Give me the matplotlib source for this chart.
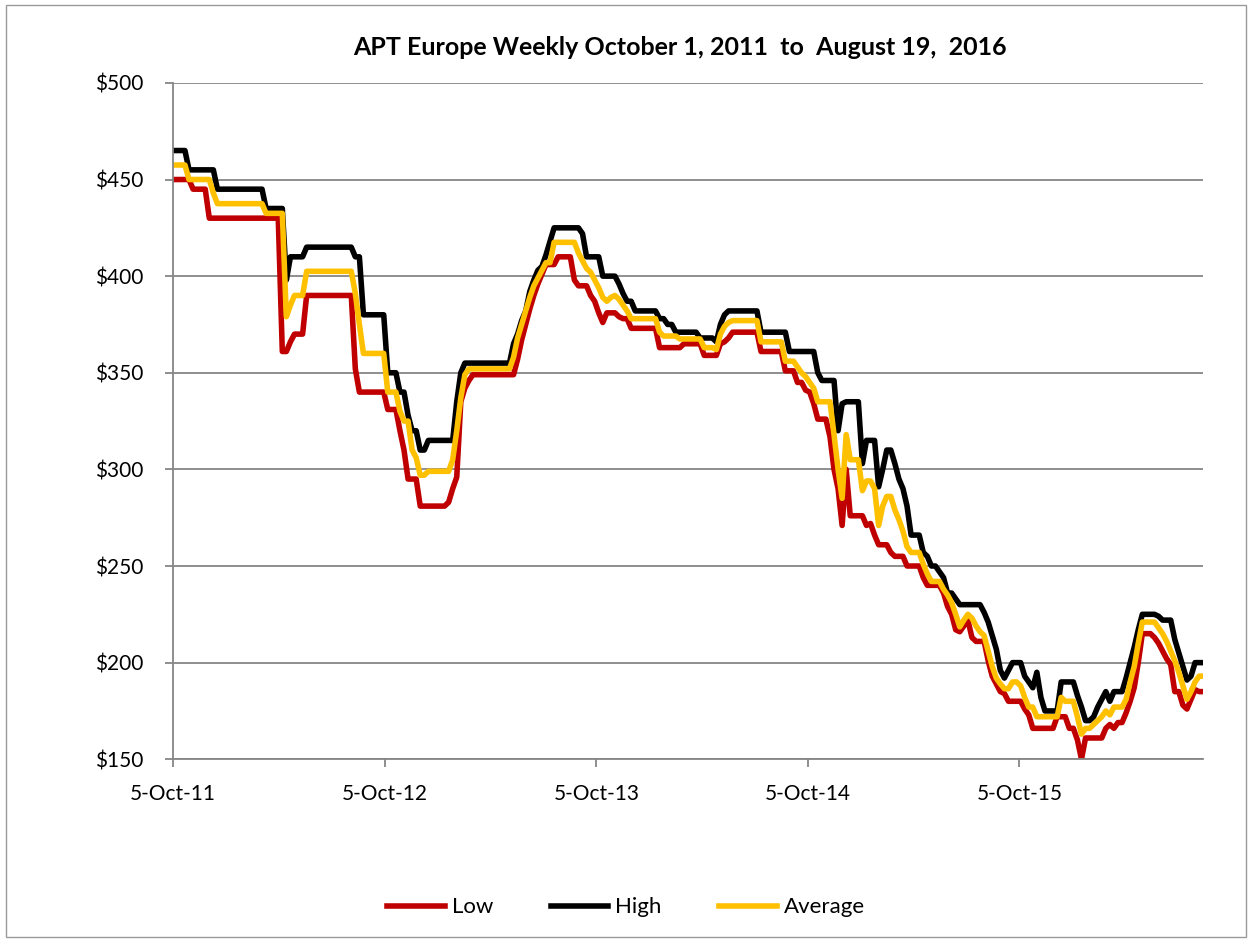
import pandas as pd
import matplotlib
matplotlib.use('Agg')
import matplotlib.pyplot as plt
from matplotlib.patches import Rectangle

plt.rcParams['font.family'] = ['Lato', 'DejaVu Sans']

# weekly prices, first week = 5-Oct-2011
high = [
    465, 465, 465, 465, 455, 455, 455, 455, 455, 455,
    455, 445, 445, 445, 445, 445, 445, 445, 445, 445,
    445, 445, 445, 435, 435, 435, 435, 435, 398, 410,
    410, 410, 410, 415, 415, 415, 415, 415, 415, 415,
    415, 415, 415, 415, 415, 410, 410, 380, 380, 380,
    380, 380, 380, 350, 350, 350, 340, 340, 328, 320,
    320, 310, 310, 315, 315, 315, 315, 315, 315, 315,
    335, 350, 355, 355, 355, 355, 355, 355, 355, 355,
    355, 355, 355, 355, 365, 370, 377, 382, 392, 398,
    403, 405, 411, 418, 425, 425, 425, 425, 425, 425,
    425, 422, 410, 410, 410, 410, 400, 400, 400, 400,
    396, 391, 387, 387, 382, 382, 382, 382, 382, 382,
    378, 378, 375, 375, 371, 371, 371, 371, 371, 371,
    368, 368, 368, 368, 366, 375, 380, 382, 382, 382,
    382, 382, 382, 382, 382, 371, 371, 371, 371, 371,
    371, 371, 361, 361, 361, 361, 361, 361, 361, 350,
    346, 346, 346, 346, 320, 334, 335, 335, 335, 335,
    303, 315, 315, 315, 291, 300, 310, 310, 303, 295,
    290, 281, 266, 266, 266, 257, 255, 250, 250, 247,
    244, 236, 236, 233, 230, 230, 230, 230, 230, 230,
    226, 221, 214, 207, 196, 192, 196, 200, 200, 200,
    193, 190, 187, 195, 182, 175, 175, 175, 175, 190,
    190, 190, 190, 183, 177, 170, 170, 172, 177, 181,
    185, 180, 185, 185, 185, 192, 200, 208, 217, 225,
    225, 225, 225, 224, 222, 222, 222, 212, 205, 198,
    191, 193, 200, 200, 200,
]

low = [
    450, 450, 450, 450, 450, 445, 445, 445, 445, 430,
    430, 430, 430, 430, 430, 430, 430, 430, 430, 430,
    430, 430, 430, 430, 430, 430, 430, 361, 361, 366,
    370, 370, 370, 390, 390, 390, 390, 390, 390, 390,
    390, 390, 390, 390, 390, 352, 340, 340, 340, 340,
    340, 340, 340, 331, 331, 331, 320, 310, 295, 295,
    295, 281, 281, 281, 281, 281, 281, 281, 283, 290,
    296, 335, 342, 346, 349, 349, 349, 349, 349, 349,
    349, 349, 349, 349, 349, 357, 367, 375, 383, 390,
    396, 401, 406, 406, 406, 410, 410, 410, 410, 398,
    395, 395, 395, 390, 387, 381, 376, 381, 381, 381,
    379, 378, 378, 373, 373, 373, 373, 373, 373, 373,
    363, 363, 363, 363, 363, 363, 365, 365, 365, 365,
    365, 359, 359, 359, 359, 365, 366, 368, 371, 371,
    371, 371, 371, 371, 371, 361, 361, 361, 361, 361,
    361, 351, 351, 351, 345, 345, 341, 340, 334, 326,
    326, 326, 317, 300, 290, 271, 300, 276, 276, 276,
    276, 271, 272, 266, 261, 261, 261, 257, 255, 255,
    255, 250, 250, 250, 250, 244, 240, 240, 240, 240,
    236, 229, 225, 217, 216, 219, 222, 213, 211, 211,
    211, 201, 193, 189, 185, 184, 180, 180, 180, 180,
    176, 173, 166, 166, 166, 166, 166, 166, 172, 172,
    172, 166, 166, 160, 150, 161, 161, 161, 161, 161,
    166, 168, 166, 169, 169, 174, 180, 187, 200, 215,
    215, 215, 213, 210, 206, 202, 199, 185, 185, 178,
    176, 181, 186, 185, 185,
]

average = [
    457.5, 457.5, 457.5, 457.5, 450, 450, 450, 450, 450, 450,
    443, 437.5, 437.5, 437.5, 437.5, 437.5, 437.5, 437.5, 437.5, 437.5,
    437.5, 437.5, 437.5, 432.5, 432.5, 432.5, 432.5, 432.5, 379, 385,
    390, 390, 390, 402.5, 402.5, 402.5, 402.5, 402.5, 402.5, 402.5,
    402.5, 402.5, 402.5, 402.5, 402.5, 391, 375, 360, 360, 360,
    360, 360, 360, 340, 340, 340, 330, 325, 325, 310,
    306, 297, 297, 299, 299, 299, 299, 299, 299, 305,
    320, 337, 349, 352, 352, 352, 352, 352, 352, 352,
    352, 352, 352, 352, 358, 368, 375, 382, 389, 395,
    399, 403, 407, 407, 417.5, 417.5, 417.5, 417.5, 417.5, 417.5,
    412, 408, 404, 402, 398, 394, 389, 387, 389, 390,
    388, 385, 382, 378, 378, 378, 378, 378, 378, 378,
    371, 369, 369, 369, 369, 367.5, 367.5, 367.5, 367.5, 367.5,
    367.5, 363, 363, 363, 362, 370, 374, 376, 377, 377,
    377, 377, 377, 377, 377, 366, 366, 366, 366, 366,
    366, 356, 356, 356, 353, 350, 348, 345, 342, 335,
    335, 335, 335, 318, 300, 285, 318, 305, 305, 305,
    289, 294, 294, 290, 271, 281, 286, 286, 279, 274,
    268, 260, 257, 257, 257, 251, 246, 242, 242, 242,
    238, 235, 231, 225, 218.5, 222, 225, 223, 219, 216,
    214, 206, 198, 192, 189, 186.5, 186.5, 190, 190, 188,
    182, 177, 177, 172, 172, 172, 172, 172, 172, 182,
    180, 180, 180, 172, 163, 166, 166, 168, 170, 172,
    175, 173, 177, 177, 177, 181, 190, 198, 210, 221,
    221, 221, 221, 218, 215, 211, 206, 201, 195, 188,
    181, 185, 190, 193, 193,
]

tick_dates = ['2011-10-05', '2012-10-05', '2013-10-05', '2014-10-05', '2015-10-05']
tick_labels = ['5-Oct-11', '5-Oct-12', '5-Oct-13', '5-Oct-14', '5-Oct-15']
y_ticks = [150, 200, 250, 300, 350, 400, 450, 500]
y_labels = ['$150', '$200', '$250', '$300', '$350', '$400', '$450', '$500']

weeks = pd.date_range('2011-10-05', periods=len(high), freq='7D')

fig = plt.figure(figsize=(12.52, 9.42), dpi=100)
ax = fig.add_axes([0.138, 0.194, 0.823, 0.718])

grid_col = '#868686'
ax.plot(weeks[:len(low)], low, color='#C00000', lw=4, label='Low', solid_joinstyle='round')
ax.plot(weeks, high, color='#000000', lw=4, label='High', solid_joinstyle='round')
ax.plot(weeks[:len(average)], average, color='#FFC000', lw=4, label='Average', solid_joinstyle='round')

ax.set_xlim(weeks[0], weeks[-1])
ax.set_ylim(150, 500)
ax.set_yticks(y_ticks)
ax.set_yticklabels(y_labels)
ax.set_xticks(pd.to_datetime(tick_dates))
ax.set_xticklabels(tick_labels)

ax.yaxis.grid(True, color=grid_col, lw=1.3)
ax.set_axisbelow(True)
for s in ['top', 'right']:
    ax.spines[s].set_visible(False)
for s in ['left', 'bottom']:
    ax.spines[s].set_color(grid_col)
    ax.spines[s].set_linewidth(1.3)
ax.tick_params(axis='both', colors=grid_col, length=6, width=1.3, labelsize=15,
               labelcolor='black')
ax.tick_params(axis='y', pad=15)
ax.tick_params(axis='x', pad=12)

fig.text(0.543, 0.95, 'APT Europe Weekly October 1, 2011  to  August 19,  2016',
         ha='center', va='center', fontsize=18, fontweight='bold')

fig.legend(loc='lower center', bbox_to_anchor=(0.5, 0.005), ncol=3, frameon=False,
           fontsize=16, handlelength=2.6, handletextpad=0.3, columnspacing=2.6)

fig.patches.append(Rectangle((0.005, 0.005), 0.99, 0.99, transform=fig.transFigure,
                             fill=False, edgecolor='#9a9a9a', lw=1))

fig.savefig('out.png', dpi=100)
